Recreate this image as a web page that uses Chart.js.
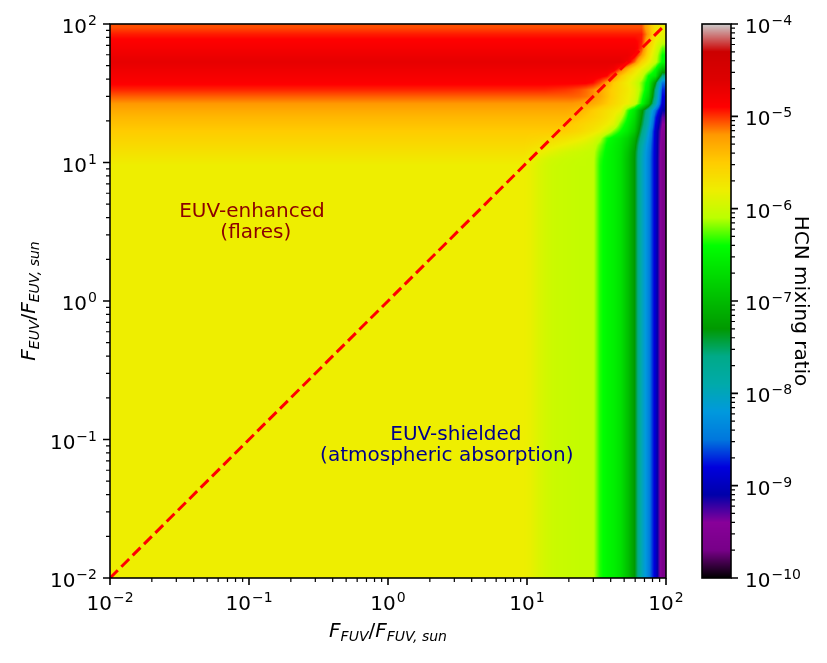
<!DOCTYPE html>
<html lang="en">
<head>
<meta charset="UTF-8">
<title>HCN mixing ratio map</title>
<style>
  html, body { margin: 0; padding: 0; background: #fff; }
  #wrap { position: relative; width: 827px; height: 663px; }
</style>
</head>
<body>
<div id="wrap"><canvas id="chart" width="827" height="663"></canvas></div>
<script src="https://cdn.jsdelivr.net/npm/chart.js"></script>
<script>
// grid nodes, log10 of F/F_sun. Left of / below the first node the field is flat.
const fuvLogNodes = [0.975, 1.025, 1.075, 1.125, 1.175, 1.225, 1.275, 1.325, 1.375, 1.425, 1.475, 1.525, 1.575, 1.625, 1.675, 1.725, 1.775, 1.825, 1.875, 1.925, 1.975];
const euvLogNodes = [0.975, 1.025, 1.075, 1.125, 1.175, 1.225, 1.275, 1.325, 1.375, 1.425, 1.475, 1.525, 1.575, 1.625, 1.675, 1.725, 1.775, 1.825, 1.875, 1.925, 1.975];

// log10 HCN mixing ratio, rows = EUV nodes (bottom -> top), columns = FUV nodes
const hcnLog = [
  [-5.8, -5.83, -5.9, -5.96, -6.0, -6.02, -6.03, -6.04, -6.05, -6.05, -6.06, -6.35, -6.46, -6.54, -6.67, -6.95, -7.3, -7.95, -8.4, -8.9, -9.65],
  [-5.74, -5.8, -5.87, -5.93, -5.98, -6.0, -6.02, -6.03, -6.04, -6.05, -6.06, -6.33, -6.46, -6.54, -6.67, -6.95, -7.3, -7.95, -8.4, -8.9, -9.65],
  [-5.68, -5.72, -5.77, -5.82, -5.87, -5.92, -5.96, -5.99, -6.01, -6.03, -6.05, -6.28, -6.45, -6.54, -6.66, -6.92, -7.28, -7.92, -8.38, -8.9, -9.62],
  [-5.62, -5.64, -5.67, -5.7, -5.74, -5.78, -5.82, -5.86, -5.9, -5.95, -6.0, -6.2, -6.42, -6.52, -6.64, -6.85, -7.2, -7.85, -8.33, -8.9, -9.6],
  [-5.56, -5.57, -5.58, -5.6, -5.62, -5.65, -5.68, -5.72, -5.76, -5.82, -5.9, -6.05, -6.35, -6.48, -6.6, -6.78, -7.1, -7.7, -8.25, -8.9, -9.55],
  [-5.5, -5.5, -5.5, -5.5, -5.5, -5.5, -5.52, -5.56, -5.6, -5.66, -5.72, -5.8, -5.95, -6.2, -6.4, -6.6, -6.9, -7.55, -8.15, -8.9, -9.5],
  [-5.44, -5.44, -5.44, -5.44, -5.44, -5.44, -5.46, -5.5, -5.55, -5.6, -5.64, -5.7, -5.78, -5.9, -6.25, -6.5, -6.8, -7.4, -8.0, -8.8, -9.4],
  [-5.38, -5.38, -5.38, -5.38, -5.38, -5.38, -5.38, -5.4, -5.44, -5.5, -5.56, -5.62, -5.7, -5.8, -6.05, -6.4, -6.7, -7.3, -7.9, -8.7, -9.3],
  [-5.3, -5.3, -5.3, -5.3, -5.3, -5.3, -5.3, -5.32, -5.36, -5.42, -5.5, -5.58, -5.66, -5.74, -5.82, -6.3, -6.6, -7.2, -7.8, -8.5, -9.1],
  [-5.2, -5.2, -5.2, -5.2, -5.2, -5.2, -5.2, -5.2, -5.22, -5.26, -5.3, -5.38, -5.48, -5.6, -5.7, -5.8, -6.0, -6.4, -7.0, -7.9, -8.9],
  [-5.09, -5.09, -5.09, -5.09, -5.09, -5.09, -5.09, -5.09, -5.1, -5.13, -5.18, -5.28, -5.42, -5.55, -5.68, -5.78, -5.92, -6.3, -6.75, -7.7, -8.8],
  [-4.97, -4.97, -4.97, -4.97, -4.98, -4.99, -5.0, -5.02, -5.05, -5.1, -5.17, -5.28, -5.42, -5.55, -5.65, -5.75, -5.9, -6.2, -6.6, -7.6, -8.7],
  [-4.88, -4.88, -4.88, -4.88, -4.88, -4.88, -4.88, -4.88, -4.88, -4.88, -4.92, -5.05, -5.25, -5.5, -5.65, -5.78, -5.95, -6.2, -6.5, -7.3, -8.5],
  [-4.82, -4.82, -4.82, -4.82, -4.82, -4.82, -4.82, -4.82, -4.82, -4.82, -4.83, -4.85, -4.9, -5.15, -5.45, -5.68, -5.82, -6.0, -6.4, -6.6, -7.6],
  [-4.75, -4.75, -4.75, -4.75, -4.75, -4.75, -4.75, -4.75, -4.75, -4.75, -4.75, -4.75, -4.75, -4.8, -5.05, -5.35, -5.65, -5.85, -6.05, -6.4, -7.0],
  [-4.68, -4.68, -4.68, -4.68, -4.68, -4.68, -4.68, -4.68, -4.68, -4.68, -4.68, -4.68, -4.68, -4.68, -4.68, -4.8, -5.1, -5.55, -5.8, -6.05, -6.45],
  [-4.75, -4.75, -4.75, -4.75, -4.75, -4.75, -4.75, -4.75, -4.75, -4.75, -4.75, -4.75, -4.75, -4.75, -4.75, -4.75, -4.85, -5.2, -5.65, -6.0, -6.4],
  [-4.82, -4.82, -4.82, -4.82, -4.82, -4.82, -4.82, -4.82, -4.82, -4.82, -4.82, -4.82, -4.82, -4.82, -4.82, -4.82, -4.82, -5.0, -5.55, -5.9, -6.25],
  [-4.88, -4.88, -4.88, -4.88, -4.88, -4.88, -4.88, -4.88, -4.88, -4.88, -4.88, -4.88, -4.88, -4.88, -4.88, -4.88, -4.88, -4.95, -5.4, -5.8, -6.0],
  [-4.95, -4.95, -4.95, -4.95, -4.95, -4.95, -4.95, -4.95, -4.95, -4.95, -4.95, -4.95, -4.95, -4.95, -4.95, -4.95, -4.95, -4.95, -5.25, -5.7, -5.85],
  [-5.05, -5.05, -5.05, -5.05, -5.05, -5.05, -5.05, -5.05, -5.05, -5.05, -5.05, -5.05, -5.05, -5.05, -5.05, -5.05, -5.05, -5.05, -5.35, -5.7, -5.8]
];

// 1:1 line F_EUV/F_EUV,sun = F_FUV/F_FUV,sun
const diagX = [0.01, 100];
const diagY = [0.01, 100];

const axisExps = [-2, -1, 0, 1, 2];
const cbarExps = [-10, -9, -8, -7, -6, -5, -4];
const cbMin = 1e-10, cbMax = 1e-4;

// text annotations: x of each line centre and y of the first baseline, in data units
const notes = [
  { lines: ['EUV-enhanced', '(flares)'], xs: [0.105, 0.112], y: 4.05, color: '#8b0000' },
  { lines: ['EUV-shielded', '(atmospheric absorption)'], xs: [3.08, 2.65], y: 0.099, color: '#00008b' }
];

// nipy_spectral, sampled every 0.05
const nipyR = [0, .4667, .5333, 0, 0, 0, 0, 0, 0, 0, 0, 0, 0, .7333, .9333, 1, 1, 1, .8667, .8, .8];
const nipyG = [0, 0, 0, 0, 0, .4667, .6, .6667, .6667, .6, .7333, .8667, 1, 1, .9333, .8, .6, 0, 0, 0, .8];
const nipyB = [0, .5333, .6, .6667, .8667, .8667, .8667, .6667, .5333, 0, 0, 0, 0, 0, 0, 0, 0, 0, 0, 0, .8];

function cmapRGB(f) {
  f = Math.min(1, Math.max(0, f));
  const p = f * 20, i = Math.min(19, Math.floor(p)), t = p - i;
  const ch = a => Math.round(255 * (a[i] + (a[i + 1] - a[i]) * t));
  return [ch(nipyR), ch(nipyG), ch(nipyB)];
}
const cmap = f => `rgb(${cmapRGB(f).join(',')})`;

// where a log value sits between grid nodes (clamped at the ends)
function locate(nodes, v) {
  const n = nodes.length;
  if (v <= nodes[0]) return [0, 0];
  if (v >= nodes[n - 1]) return [n - 2, 1];
  let i = 0;
  while (nodes[i + 1] < v) i++;
  return [i, (v - nodes[i]) / (nodes[i + 1] - nodes[i])];
}

const FONT = '"DejaVu Sans", sans-serif';
const tickPx = 20, supPx = 14;

// draws 10^exp, text block centred vertically on yMid
function drawPow(ctx, exp, x, yMid, align) {
  const sup = exp < 0 ? '\u2212' + (-exp) : String(exp);
  ctx.font = `${tickPx}px ${FONT}`;
  const wb = ctx.measureText('10').width;
  ctx.font = `${supPx}px ${FONT}`;
  const ws = ctx.measureText(sup).width;
  const w = wb + ws + 1;
  const left = align === 'center' ? x - w / 2 : align === 'right' ? x - w : x;
  const base = yMid + 9;
  ctx.textAlign = 'left';
  ctx.textBaseline = 'alphabetic';
  ctx.fillStyle = '#000';
  ctx.font = `${tickPx}px ${FONT}`;
  ctx.fillText('10', left, base);
  ctx.font = `${supPx}px ${FONT}`;
  ctx.fillText(sup, left + wb + 1, base - 8);
}

// F_{band}/F_{band, sun} in the mathtext style
function fluxLabel(ctx, band, cx, baseY, rot) {
  const parts = [
    { t: 'F', size: 20, it: true, dy: 0 },
    { t: band, size: 14, it: true, dy: 4 },
    { t: '/', size: 20, it: false, dy: 0 },
    { t: 'F', size: 20, it: true, dy: 0 },
    { t: band + ',', size: 14, it: true, dy: 4 },
    { t: ' sun', size: 14, it: true, dy: 4 }
  ];
  let total = 0;
  parts.forEach(p => {
    ctx.font = `${p.it ? 'italic ' : ''}${p.size}px ${FONT}`;
    p.w = ctx.measureText(p.t).width;
    total += p.w;
  });
  ctx.save();
  ctx.translate(cx, baseY);
  if (rot) ctx.rotate(rot);
  ctx.textAlign = 'left';
  ctx.textBaseline = 'alphabetic';
  ctx.fillStyle = '#000';
  let x = -total / 2;
  parts.forEach(p => {
    ctx.font = `${p.it ? 'italic ' : ''}${p.size}px ${FONT}`;
    ctx.fillText(p.t, x, p.dy);
    x += p.w;
  });
  ctx.restore();
}

const minors = [];
[-2, -1, 0, 1].forEach(k => { for (let m = 2; m <= 9; m++) minors.push(m * 10 ** k); });
const cbMinors = [];
[-10, -9, -8, -7, -6, -5].forEach(k => { for (let m = 2; m <= 9; m++) cbMinors.push(m * 10 ** k); });

const heatPlugin = {
  id: 'heat',
  // gouraud-style shading of the grid, pixel by pixel through the log scales
  beforeDatasetsDraw(chart) {
    const { ctx, chartArea: a, scales: { x, y } } = chart;
    const L = Math.round(a.left), T = Math.round(a.top);
    const W = Math.round(a.right) - L, H = Math.round(a.bottom) - T;
    const cols = [], rows = [];
    for (let i = 0; i < W; i++) cols.push(locate(fuvLogNodes, Math.log10(x.getValueForPixel(L + i + 0.5))));
    for (let j = 0; j < H; j++) rows.push(locate(euvLogNodes, Math.log10(y.getValueForPixel(T + j + 0.5))));
    const img = ctx.createImageData(W, H);
    for (let j = 0; j < H; j++) {
      const [r, tr] = rows[j];
      const lo = hcnLog[r], hi = hcnLog[r + 1];
      for (let i = 0; i < W; i++) {
        const [c, tc] = cols[i];
        const v0 = lo[c] + (lo[c + 1] - lo[c]) * tc;
        const v1 = hi[c] + (hi[c + 1] - hi[c]) * tc;
        const v = v0 + (v1 - v0) * tr;
        const rgb = cmapRGB((v + 10) / 6);
        const k = (j * W + i) * 4;
        img.data[k] = rgb[0]; img.data[k + 1] = rgb[1]; img.data[k + 2] = rgb[2]; img.data[k + 3] = 255;
      }
    }
    ctx.putImageData(img, L, T);
  },
  afterDraw(chart) {
    const { ctx, chartArea: a, scales: { x, y, cb } } = chart;
    ctx.save();

    // annotations
    ctx.textAlign = 'center';
    ctx.textBaseline = 'alphabetic';
    ctx.font = `20px ${FONT}`;
    notes.forEach(n => {
      const py = y.getPixelForValue(n.y);
      ctx.fillStyle = n.color;
      n.lines.forEach((t, i) => ctx.fillText(t, x.getPixelForValue(n.xs[i]), py + i * 21));
    });

    // frame
    ctx.strokeStyle = '#000';
    ctx.lineWidth = 1.6;
    ctx.strokeRect(a.left, a.top, a.right - a.left, a.bottom - a.top);

    // axis ticks
    ctx.lineWidth = 1.6;
    ctx.beginPath();
    axisExps.forEach(e => {
      const px = x.getPixelForValue(10 ** e), py = y.getPixelForValue(10 ** e);
      ctx.moveTo(px, a.bottom); ctx.lineTo(px, a.bottom + 7);
      ctx.moveTo(a.left, py); ctx.lineTo(a.left - 7, py);
    });
    ctx.stroke();
    ctx.lineWidth = 1.2;
    ctx.beginPath();
    minors.forEach(v => {
      const px = x.getPixelForValue(v), py = y.getPixelForValue(v);
      ctx.moveTo(px, a.bottom); ctx.lineTo(px, a.bottom + 4);
      ctx.moveTo(a.left, py); ctx.lineTo(a.left - 4, py);
    });
    ctx.stroke();

    axisExps.forEach(e => {
      drawPow(ctx, e, x.getPixelForValue(10 ** e), a.bottom + 23, 'center');
      drawPow(ctx, e, a.left - 13, y.getPixelForValue(10 ** e), 'right');
    });

    fluxLabel(ctx, 'FUV', (a.left + a.right) / 2, 637, 0);
    fluxLabel(ctx, 'EUV', 35, (a.top + a.bottom) / 2, -Math.PI / 2);

    // colour bar
    const cbL = 702, cbR = 731;
    for (let py = Math.floor(a.top); py < a.bottom; py++) {
      const v = cb.getValueForPixel(py + 0.5);
      ctx.fillStyle = cmap((Math.log10(v) + 10) / 6);
      ctx.fillRect(cbL, py, cbR - cbL, 1);
    }
    ctx.strokeStyle = '#000';
    ctx.lineWidth = 1.6;
    ctx.strokeRect(cbL, a.top, cbR - cbL, a.bottom - a.top);

    ctx.beginPath();
    cbarExps.forEach(e => {
      const py = cb.getPixelForValue(10 ** e);
      ctx.moveTo(cbR, py); ctx.lineTo(cbR + 7, py);
    });
    ctx.stroke();
    ctx.lineWidth = 1.2;
    ctx.beginPath();
    cbMinors.forEach(v => {
      const py = cb.getPixelForValue(v);
      ctx.moveTo(cbR, py); ctx.lineTo(cbR + 4, py);
    });
    ctx.stroke();
    cbarExps.forEach(e => drawPow(ctx, e, cbR + 14, cb.getPixelForValue(10 ** e), 'left'));

    ctx.save();
    ctx.translate(795, (a.top + a.bottom) / 2);
    ctx.rotate(Math.PI / 2);
    ctx.textAlign = 'center';
    ctx.textBaseline = 'alphabetic';
    ctx.fillStyle = '#000';
    ctx.font = `20px ${FONT}`;
    ctx.fillText('HCN mixing ratio', 0, 0);
    ctx.restore();

    ctx.restore();
  }
};

new Chart(document.getElementById('chart'), {
  type: 'scatter',
  data: {
    datasets: [{
      data: diagX.map((v, i) => ({ x: v, y: diagY[i] })),
      xAxisID: 'x',
      yAxisID: 'y',
      showLine: true,
      borderColor: '#ff0000',
      borderWidth: 3,
      borderDash: [11, 5],
      pointRadius: 0
    }]
  },
  options: {
    responsive: false,
    animation: false,
    layout: { padding: { left: 110, top: 24, right: 161, bottom: 85 } },
    plugins: { legend: { display: false }, tooltip: { enabled: false } },
    scales: {
      x: { type: 'logarithmic', min: 0.01, max: 100, display: false },
      y: { type: 'logarithmic', min: 0.01, max: 100, display: false },
      cb: { type: 'logarithmic', axis: 'y', position: 'right', min: cbMin, max: cbMax, display: false }
    }
  },
  plugins: [heatPlugin]
});
</script>
</body>
</html>
